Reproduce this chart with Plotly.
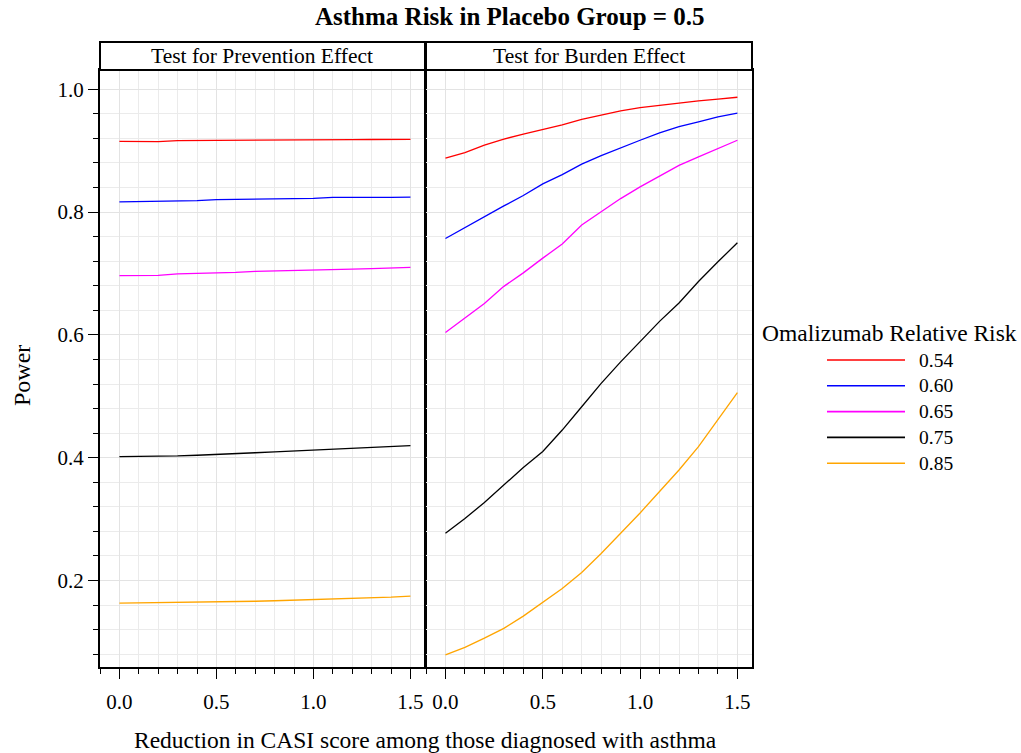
import plotly.graph_objects as go

# ---------------- data ----------------
reduction = [0.0, 0.1, 0.2, 0.3, 0.4, 0.5, 0.6, 0.7, 0.8, 0.9, 1.0, 1.1, 1.2, 1.3, 1.4, 1.5]
rr_labels = ["0.54", "0.60", "0.65", "0.75", "0.85"]
rr_colors = ["#FF0000", "#0000FF", "#FF00FF", "#000000", "#FFA500"]
panel_titles = ["Test for Prevention Effect", "Test for Burden Effect"]

prev_054 = [0.915, 0.915, 0.9147, 0.9165, 0.9168, 0.917, 0.9172, 0.9174, 0.9175, 0.9177, 0.9178, 0.918, 0.918, 0.9182, 0.9183, 0.9184]
prev_060 = [0.8165, 0.817, 0.8174, 0.8176, 0.8187, 0.8203, 0.8207, 0.8213, 0.8217, 0.822, 0.8224, 0.824, 0.8235, 0.8238, 0.8241, 0.8245]
prev_065 = [0.6965, 0.6966, 0.697, 0.6995, 0.700, 0.701, 0.7018, 0.7035, 0.704, 0.7045, 0.705, 0.706, 0.707, 0.708, 0.709, 0.710]
prev_075 = [0.4016, 0.4018, 0.402, 0.4028, 0.404, 0.405, 0.4065, 0.408, 0.4095, 0.411, 0.412, 0.4135, 0.415, 0.416, 0.4175, 0.4197]
prev_085 = [0.163, 0.1633, 0.1636, 0.164, 0.1645, 0.165, 0.1655, 0.1662, 0.167, 0.1678, 0.1686, 0.1695, 0.1705, 0.1715, 0.1728, 0.1745]

burden_054 = [0.888, 0.897, 0.909, 0.919, 0.927, 0.934, 0.942, 0.951, 0.958, 0.965, 0.970, 0.974, 0.978, 0.981, 0.984, 0.987]
burden_060 = [0.757, 0.775, 0.793, 0.810, 0.827, 0.846, 0.861, 0.878, 0.892, 0.905, 0.917, 0.929, 0.939, 0.947, 0.955, 0.961]
burden_065 = [0.604, 0.628, 0.651, 0.679, 0.701, 0.725, 0.748, 0.779, 0.801, 0.822, 0.841, 0.859, 0.876, 0.890, 0.904, 0.917]
burden_075 = [0.277, 0.301, 0.327, 0.356, 0.384, 0.410, 0.445, 0.483, 0.521, 0.556, 0.589, 0.622, 0.652, 0.687, 0.719, 0.750]
burden_085 = [0.079, 0.091, 0.106, 0.122, 0.142, 0.164, 0.187, 0.213, 0.244, 0.277, 0.310, 0.345, 0.380, 0.418, 0.461, 0.506]

prevention = [prev_054, prev_060, prev_065, prev_075, prev_085]
burden = [burden_054, burden_060, burden_065, burden_075, burden_085]

# ---------------- layout constants ----------------
W, H = 1021, 753
FONT = "Liberation Serif, Times New Roman, serif"

def px_x(p):
    return p / W

def px_y(p):
    return 1 - p / H

x_dom_left = [px_x(100), px_x(425)]
x_dom_right = [px_x(426), px_x(752)]
y_dom = [px_y(667), px_y(70)]
strip_top = px_y(42)

fig = go.Figure()

for i, lab in enumerate(rr_labels):
    fig.add_trace(go.Scatter(x=reduction, y=prevention[i], mode="lines", name=lab,
                             line=dict(color=rr_colors[i], width=1.3),
                             xaxis="x", yaxis="y", showlegend=False))
    fig.add_trace(go.Scatter(x=reduction, y=burden[i], mode="lines", name=lab,
                             line=dict(color=rr_colors[i], width=1.3),
                             xaxis="x2", yaxis="y2", showlegend=False))

xaxis_common = dict(
    range=[-0.1, 1.575], tickmode="linear", tick0=0, dtick=0.5,
    tickformat=".1f", ticks="outside", ticklen=10, tickwidth=1.2, tickcolor="black",
    showline=True, linecolor="black", linewidth=2, mirror=True,
    showgrid=True, gridcolor="#E3E3E3", gridwidth=1.4, zeroline=False,
    tickfont=dict(family=FONT, size=21, color="black"), ticklabelstandoff=5,
    minor=dict(dtick=0.1, ticks="outside", ticklen=5, tickwidth=1.2, tickcolor="black",
               showgrid=True, gridcolor="#EBEBEB", gridwidth=1.4),
)
yaxis_common = dict(
    range=[0.0591, 1.0314], tickmode="linear", tick0=0, dtick=0.2,
    tickformat=".1f", showline=True, linecolor="black", linewidth=2, mirror=True,
    showgrid=True, gridcolor="#E3E3E3", gridwidth=1.4, zeroline=False,
    tickfont=dict(family=FONT, size=21, color="black"),
    domain=y_dom,
)

fig.update_layout(
    width=W, height=H,
    margin=dict(l=0, r=0, t=0, b=0),
    paper_bgcolor="white", plot_bgcolor="white",
    font=dict(family=FONT, color="black"),
    showlegend=False,
    xaxis=dict(domain=x_dom_left, anchor="y", **xaxis_common),
    xaxis2=dict(domain=x_dom_right, anchor="y2", **xaxis_common),
    yaxis=dict(anchor="x", ticks="outside", ticklen=10, tickwidth=1.2, tickcolor="black",
               minor=dict(dtick=0.04, ticks="outside", ticklen=5, tickwidth=1.2, tickcolor="black",
                          showgrid=True, gridcolor="#EBEBEB", gridwidth=1.4),
               **yaxis_common),
    yaxis2=dict(anchor="x2", matches="y", ticks="", showticklabels=False,
                minor=dict(dtick=0.04, showgrid=True, gridcolor="#EBEBEB", gridwidth=1.4),
                **yaxis_common),
)

shapes = []
annotations = []

# strips
for dom, title in zip([x_dom_left, x_dom_right], panel_titles):
    shapes.append(dict(type="rect", xref="paper", yref="paper",
                       x0=dom[0], x1=dom[1], y0=y_dom[1], y1=strip_top,
                       line=dict(color="black", width=2), fillcolor="white", layer="above"))
    annotations.append(dict(xref="paper", yref="paper", x=(dom[0] + dom[1]) / 2,
                            y=(y_dom[1] + strip_top) / 2, text=title, showarrow=False,
                            xanchor="center", yanchor="middle",
                            font=dict(family=FONT, size=21.5, color="black")))

# main title
annotations.append(dict(xref="paper", yref="paper", x=px_x(510), y=px_y(17),
                        text="<b>Asthma Risk in Placebo Group = 0.5</b>", showarrow=False,
                        xanchor="center", yanchor="middle",
                        font=dict(family=FONT, size=25, color="black")))
# axis titles
annotations.append(dict(xref="paper", yref="paper", x=px_x(425), y=px_y(740),
                        text="Reduction in CASI score among those diagnosed with asthma",
                        showarrow=False, xanchor="center", yanchor="middle",
                        font=dict(family=FONT, size=23.5, color="black")))
annotations.append(dict(xref="paper", yref="paper", x=px_x(22), y=px_y(376),
                        text="Power", textangle=-90, showarrow=False,
                        xanchor="center", yanchor="middle",
                        font=dict(family=FONT, size=24, color="black")))

# legend (custom, built from series labels/colors)
annotations.append(dict(xref="paper", yref="paper", x=px_x(889), y=px_y(333),
                        text="Omalizumab Relative Risk", showarrow=False,
                        xanchor="center", yanchor="middle",
                        font=dict(family=FONT, size=23.5, color="black")))
for i, (lab, col) in enumerate(zip(rr_labels, rr_colors)):
    yy = px_y(360 + i * 25.8)
    shapes.append(dict(type="line", xref="paper", yref="paper",
                       x0=px_x(827), x1=px_x(905), y0=yy, y1=yy,
                       line=dict(color=col, width=1.6)))
    annotations.append(dict(xref="paper", yref="paper", x=px_x(917), y=yy,
                            text=lab, showarrow=False, xanchor="left", yanchor="middle",
                            font=dict(family=FONT, size=19.5, color="black")))

fig.update_layout(shapes=shapes, annotations=annotations)

fig.write_html("out.html",
               config={"displayModeBar": False},
               post_script="document.body.style.margin='0';document.body.style.padding='0';")
